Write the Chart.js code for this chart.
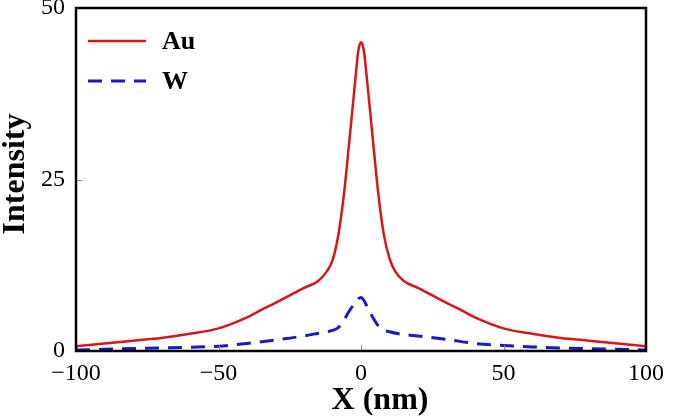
<!DOCTYPE html>
<html><head><meta charset="utf-8">
<script src="https://cdn.jsdelivr.net/npm/chart.js@4"></script>
<style>html,body{margin:0;padding:0;background:#fff}</style>
</head><body>
<canvas id="c" width="676" height="420"></canvas>
<script>
const seriesNames = ['Au', 'W'];
const auX = [-100,-90,-80,-70,-60,-50,-40,-35,-30,-25,-20,-15,-12,-10,-8,-6,-4,-2,-1,0,1,2,4,6,8,10,12,15,20,25,30,35,40,50,60,70,80,90,100];
const auY = [0.7,1.1,1.5,1.9,2.5,3.3,4.9,6.0,7.0,8.1,9.2,10.2,11.6,13.2,16.8,22.8,31,39.5,43.6,45,43.8,40,31.5,23.2,17,13.5,11.6,10.2,9.2,8.1,7.0,6.0,4.9,3.3,2.5,1.9,1.5,1.1,0.7];
const wX = [-100,-90,-80,-70,-60,-50,-40,-30,-20,-15,-10,-8,-6,-4,-2,-1,0,1,2,4,6,8,10,15,20,30,40,50,60,70,80,90,100];
const wY = [0.15,0.25,0.35,0.45,0.55,0.7,1.1,1.6,2.2,2.6,3.0,3.4,4.5,5.9,7.1,7.6,7.8,7.4,6.6,5.0,3.7,3.1,2.8,2.4,2.2,1.7,1.1,0.8,0.6,0.45,0.35,0.25,0.15];
const xTicks = [-100, -50, 0, 50, 100];
const yTicks = [0, 25, 50];
const xTitle = 'X (nm)';
const yTitle = 'Intensity';

const toPts = (xs, ys) => xs.map((x, i) => ({x: x, y: ys[i]}));
const SERIF = '"Liberation Serif", "Times New Roman", serif';

const framePlugin = {
  id: 'frame',
  afterDatasetsDraw(chart) {
    const {ctx, chartArea: a, scales} = chart;
    ctx.save();
    ctx.strokeStyle = '#888';
    ctx.lineWidth = 1;
    ctx.beginPath();
    xTicks.slice(1, -1).forEach(v => {
      const px = Math.round(scales.x.getPixelForValue(v)) + 0.5;
      ctx.moveTo(px, a.bottom); ctx.lineTo(px, a.bottom - 6);
    });
    yTicks.slice(1, -1).forEach(v => {
      const py = Math.round(scales.y.getPixelForValue(v)) + 0.5;
      ctx.moveTo(a.left, py); ctx.lineTo(a.left + 6, py);
    });
    ctx.stroke();
    ctx.strokeStyle = '#000';
    ctx.lineWidth = 2.5;
    ctx.strokeRect(a.left, a.top, a.right - a.left, a.bottom - a.top);
    chart.data.datasets.forEach((ds, i) => {
      const y = a.top + 33 + i * 40;
      ctx.strokeStyle = ds.borderColor;
      ctx.lineWidth = ds.borderWidth;
      ctx.setLineDash(ds.borderDash || []);
      ctx.beginPath();
      ctx.moveTo(a.left + 12, y); ctx.lineTo(a.left + 70, y);
      ctx.stroke();
      ctx.setLineDash([]);
      ctx.fillStyle = '#000';
      ctx.font = 'bold 26px ' + SERIF;
      ctx.textBaseline = 'middle';
      ctx.textAlign = 'left';
      ctx.fillText(ds.label, a.left + 86, y + 1);
    });
    ctx.font = 'bold 32px ' + SERIF;
    ctx.textAlign = 'center';
    ctx.textBaseline = 'middle';
    ctx.fillText(xTitle, 380, 401);
    ctx.save();
    ctx.translate(16, 174);
    ctx.rotate(-Math.PI / 2);
    ctx.fillText(yTitle, 0, 0);
    ctx.restore();
    ctx.restore();
  }
};

new Chart(document.getElementById('c'), {
  type: 'line',
  data: {
    datasets: [
      {label: seriesNames[0], data: toPts(auX, auY), borderColor: 'rgb(212,24,24)', borderWidth: 2.5, pointRadius: 0, fill: false, cubicInterpolationMode: 'monotone'},
      {label: seriesNames[1], data: toPts(wX, wY), borderColor: 'rgb(24,24,204)', borderWidth: 3, borderDash: [14, 9], pointRadius: 0, fill: false, cubicInterpolationMode: 'monotone'}
    ]
  },
  options: {
    responsive: false,
    animation: false,
    layout: {padding: {top: 8, right: 30, left: 0, bottom: 0}},
    plugins: {legend: {display: false}, tooltip: {enabled: false}},
    scales: {
      x: {
        type: 'linear', min: -100, max: 100,
        afterBuildTicks: s => { s.ticks = xTicks.map(v => ({value: v})); },
        afterFit: s => { s.height = 69; s.paddingLeft = 0; s.paddingRight = 0; },
        grid: {display: false, drawTicks: false},
        border: {display: false},
        ticks: {padding: 8, color: '#000', font: {family: SERIF, size: 24}, maxRotation: 0,
          callback: v => String(v).replace('-', '\u2212')}
      },
      y: {
        type: 'linear', min: 0, max: 50,
        afterBuildTicks: s => { s.ticks = yTicks.map(v => ({value: v})); },
        afterFit: s => { s.width = 76; s.paddingTop = 0; s.paddingBottom = 0; },
        grid: {display: false, drawTicks: false},
        border: {display: false},
        ticks: {padding: 11, color: '#000', font: {family: SERIF, size: 24}}
      }
    }
  },
  plugins: [framePlugin]
});
</script>
</body></html>
